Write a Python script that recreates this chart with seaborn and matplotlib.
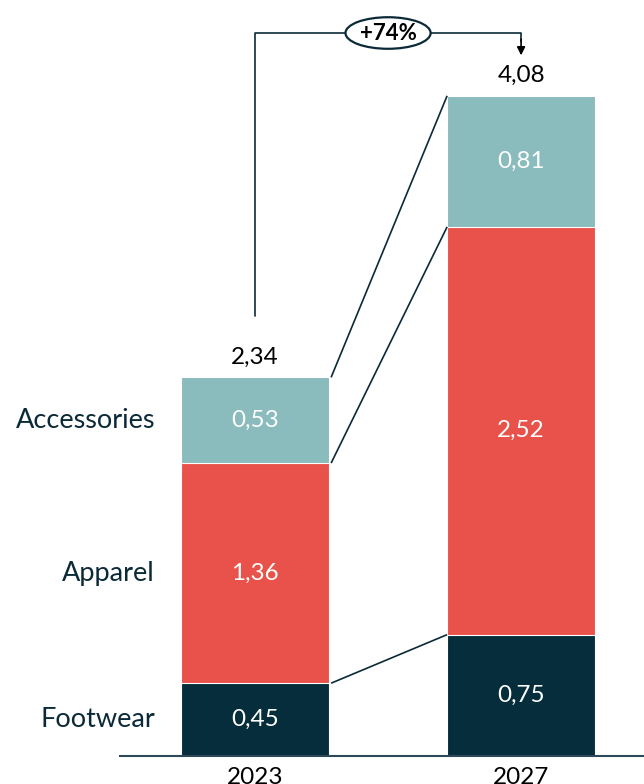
import numpy as np
import pandas as pd
import seaborn as sns
import matplotlib.pyplot as plt
from matplotlib.patches import Ellipse

years = ["2023", "2027"]
segments = ["Footwear", "Apparel", "Accessories"]
footwear = [0.45, 0.75]
apparel = [1.36, 2.52]
accessories = [0.53, 0.81]
totals = [2.34, 4.08]

colors = {"Footwear": "#062D3C", "Apparel": "#E8524A", "Accessories": "#8ABBBD"}
DARK = "#0B2A38"

sns.set_theme(style="white")
plt.rcParams["font.family"] = ["Lato", "DejaVu Sans"]

fig = plt.figure(figsize=(6.44, 7.84), dpi=100)
ax = fig.add_axes([120 / 644, 28 / 784, 524 / 644, 756 / 784])

vals = {"Footwear": footwear, "Apparel": apparel, "Accessories": accessories}
cum = np.cumsum([vals[s] for s in segments], axis=0)
bw = 0.556

# draw from top layer down so each cumulative bar overlaps the previous
for i in reversed(range(len(segments))):
    df = pd.DataFrame({"year": years, "v": cum[i]})
    sns.barplot(data=df, x="year", y="v", color=colors[segments[i]], width=bw,
                saturation=1, edgecolor="white", linewidth=0.8, ax=ax)

ax.set_xlim(-0.5075, 1.462)
ax.set_ylim(0, 4.672)

def fmt(v):
    return f"{v:.2f}".replace(".", ",")

# segment labels
for j in range(len(years)):
    bottom = 0
    for i, s in enumerate(segments):
        v = vals[s][j]
        ax.text(j, bottom + v / 2, fmt(v), ha="center", va="center",
                color="white", fontsize=17.5)
        bottom += v
    ax.text(j, totals[j] + 0.06, fmt(totals[j]), ha="center", va="bottom",
            color="black", fontsize=17.5)

# category labels on the left
for i, s in enumerate(segments):
    mid = cum[i][0] - vals[s][0] / 2
    ax.text(-0.376, mid, s, ha="right", va="center", color=DARK,
            fontsize=19.5, clip_on=False)

# connector lines between bars
x0 = 0 + bw / 2 + 0.008
x1 = 1 - bw / 2
for i in range(len(segments)):
    ax.plot([x0, x1], [cum[i][0], cum[i][1]], color=DARK, lw=1.2,
            solid_capstyle="butt", clip_on=False)

# growth bracket
ytop = 4.468
growth = (totals[1] / totals[0] - 1) * 100
ax.plot([0, 0, 1, 1], [totals[0] + 0.38, ytop, ytop, 4.42], color=DARK,
        lw=1.2, clip_on=False)
ax.annotate("", xy=(1, 4.33), xytext=(1, 4.43),
            arrowprops=dict(arrowstyle="-|>", color="black", lw=1.2,
                            mutation_scale=12, shrinkA=0, shrinkB=0))
ell = Ellipse((0.5, ytop), 0.32, 0.195, facecolor="white", edgecolor=DARK,
              lw=1.6, zorder=5, clip_on=False)
ax.add_patch(ell)
ax.text(0.5, ytop, f"+{growth:.0f}%", ha="center", va="center",
        fontsize=16, fontweight="bold", color="black", zorder=6)

sns.despine(ax=ax, left=True)
ax.spines["bottom"].set_color("#2E4A5A")
ax.spines["bottom"].set_linewidth(1.5)
ax.set_yticks([])
ax.set_xlabel("")
ax.set_ylabel("")
ax.tick_params(axis="x", length=0, pad=8, labelsize=17.5, labelcolor="black")

fig.savefig("out.png", dpi=100)
